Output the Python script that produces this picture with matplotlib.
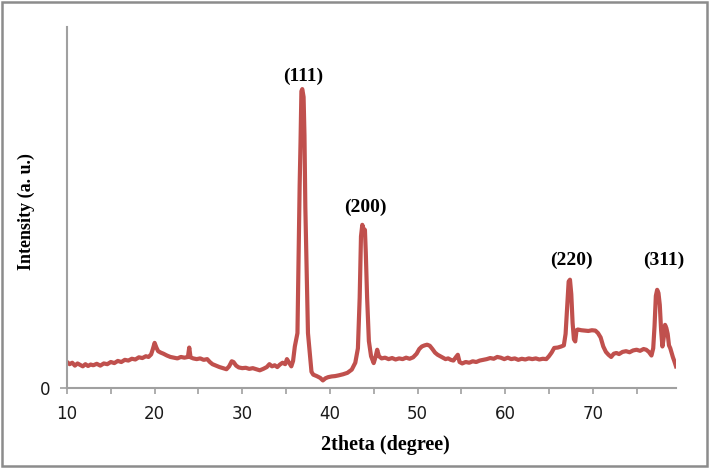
import matplotlib
matplotlib.use("Agg")
import matplotlib.pyplot as plt
from matplotlib.patches import Rectangle
from matplotlib.ticker import MultipleLocator

# XRD pattern (intensity in arbitrary units, axis top = 1000)
two_theta = [10.0, 10.3, 10.6, 10.9, 11.2, 11.5, 11.8, 12.1, 12.4, 12.7, 13.0, 13.4, 13.8, 14.2,
             14.6, 15.0, 15.4, 15.8, 16.2, 16.6, 17.0, 17.4, 17.8, 18.2, 18.6, 19.0, 19.3, 19.6,
             19.8, 20.0, 20.2, 20.4, 20.7, 21.0, 21.4, 21.8, 22.2, 22.6, 23.0, 23.4, 23.8, 23.95,
             24.1, 24.4, 24.8, 25.2, 25.6, 26.0, 26.3, 26.6, 27.0, 27.4, 27.8, 28.2, 28.5, 28.8,
             29.0, 29.3, 29.6, 30.0, 30.4, 30.8, 31.2, 31.6, 32.0, 32.4, 32.8, 33.1, 33.4, 33.7,
             34.0, 34.3, 34.6, 34.9, 35.1, 35.3, 35.6, 35.8, 36.0, 36.3, 36.45, 36.55, 36.65, 36.75,
             36.85, 37.0, 37.1, 37.2, 37.35, 37.5, 37.7, 37.9, 38.1, 38.5, 38.9, 39.2, 39.5, 39.8,
             40.2, 40.6, 41.0, 41.5, 42.0, 42.5, 42.9, 43.2, 43.4, 43.55, 43.7, 43.85, 44.0, 44.1,
             44.25, 44.45, 44.7, 45.0, 45.2, 45.4, 45.6, 45.9, 46.3, 46.7, 47.1, 47.5, 47.9, 48.3,
             48.7, 49.1, 49.5, 49.9, 50.2, 50.5, 50.8, 51.1, 51.4, 51.7, 52.0, 52.3, 52.6, 52.9,
             53.2, 53.5, 53.8, 54.1, 54.4, 54.6, 54.8, 55.1, 55.5, 55.9, 56.3, 56.7, 57.1, 57.5,
             57.9, 58.3, 58.7, 59.1, 59.5, 59.9, 60.3, 60.7, 61.1, 61.5, 61.9, 62.3, 62.7, 63.1,
             63.5, 63.9, 64.3, 64.7, 65.0, 65.3, 65.6, 66.0, 66.4, 66.7, 66.9, 67.1, 67.25, 67.4,
             67.55, 67.7, 67.85, 68.0, 68.15, 68.3, 68.7, 69.1, 69.5, 69.9, 70.3, 70.6, 70.9, 71.2,
             71.5, 71.8, 72.1, 72.4, 72.7, 73.0, 73.4, 73.8, 74.2, 74.6, 75.0, 75.4, 75.8, 76.1,
             76.4, 76.7, 76.9, 77.05, 77.2, 77.35, 77.5, 77.65, 77.8, 77.95, 78.1, 78.25, 78.4, 78.55,
             78.7, 78.85, 79.0, 79.15, 79.3, 79.5]
intensity = [72, 66, 70, 62, 68, 64, 60, 66, 61, 65, 63, 67, 62, 68,
             66, 72, 69, 75, 72, 78, 76, 81, 79, 85, 83, 88, 86, 93,
             108, 125, 112, 102, 98, 95, 90, 86, 84, 82, 86, 84, 86, 112,
             85, 82, 80, 82, 78, 80, 72, 66, 62, 58, 55, 52, 60, 74,
             72, 62, 57, 55, 56, 53, 55, 52, 49, 53, 58, 66, 60, 63,
             58, 65, 70, 66, 80, 72, 60, 75, 115, 152, 390, 560, 680, 822,
             828, 806, 700, 500, 320, 152, 100, 45, 37, 33, 28, 21, 27, 30,
             32, 33, 35, 38, 42, 51, 70, 110, 250, 420, 452, 440, 438, 374,
             250, 130, 88, 69, 85, 106, 88, 82, 84, 80, 83, 79, 82, 80,
             84, 81, 85, 95, 108, 115, 118, 120, 117, 108, 98, 92, 88, 84,
             80, 82, 78, 76, 86, 92, 72, 68, 72, 70, 74, 72, 76, 78,
             80, 83, 81, 86, 84, 80, 84, 80, 82, 78, 81, 79, 82, 80,
             82, 79, 81, 80, 88, 98, 111, 112, 115, 118, 150, 230, 295, 300,
             260, 180, 135, 129, 160, 162, 160, 159, 158, 160, 159, 152, 140, 115,
             100, 92, 86, 95, 97, 94, 100, 102, 99, 104, 106, 103, 108, 106,
             100, 90, 110, 171, 255, 272, 263, 230, 160, 115, 140, 175, 166, 150,
             118, 110, 97, 85, 75, 60]

peak_labels = ["(111)", "(200)", "(220)", "(311)"]
peak_x = [37.0, 44.1, 67.6, 78.1]
peak_y = [864, 501, 355, 355]

x_ticks = [10, 20, 30, 40, 50, 60, 70]

fig = plt.figure(figsize=(7.09, 4.68), dpi=100)
ax = fig.add_axes([67 / 709, 80 / 468, 609 / 709, 361 / 468])

ax.plot(two_theta, intensity, color="#c0504d", linewidth=3.0, solid_joinstyle="round")

ax.set_xlim(10, 79.5)
ax.set_ylim(0, 1000)
ax.set_xticks(x_ticks)
ax.xaxis.set_minor_locator(MultipleLocator(5))
ax.set_yticks([0])

for side in ["top", "right"]:
    ax.spines[side].set_visible(False)
for side in ["left", "bottom"]:
    ax.spines[side].set_color("#a0a0a0")
    ax.spines[side].set_linewidth(1.5)

ax.tick_params(axis="x", which="both", direction="out", length=4, width=1.2,
               color="#a0a0a0", labelsize=12, pad=8, labelcolor="#1a1a1a")
ax.tick_params(axis="y", direction="out", length=5, width=1.2, color="#a0a0a0",
               labelsize=12, pad=7, labelcolor="#1a1a1a")

for lab, px, py in zip(peak_labels, peak_x, peak_y):
    ax.text(px, py, lab, ha="center", va="center", fontsize=14, fontweight="bold",
            family="Liberation Serif", color="black")

fig.text(385 / 709, 1 - 445 / 468, "2theta (degree)", ha="center", va="center",
         fontsize=14.5, fontweight="bold", family="Liberation Serif")
fig.text(26 / 709, 1 - 212 / 468, "Intensity (a. u.)", ha="center", va="center",
         rotation=90, fontsize=13, fontweight="bold", family="Liberation Serif")

fig.patches.append(Rectangle((0.003, 0.004), 0.994, 0.992, transform=fig.transFigure,
                             fill=False, edgecolor="#8c8c8c", linewidth=1.8))

fig.savefig("out.png", dpi=100)
